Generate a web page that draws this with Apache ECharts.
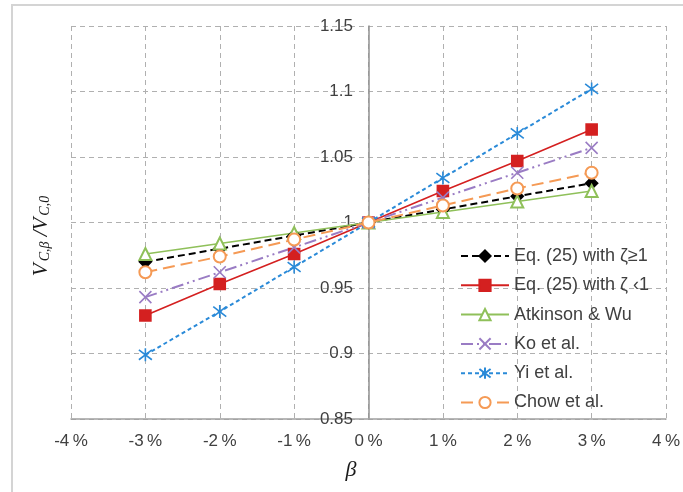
<!DOCTYPE html>
<html>
<head>
<meta charset="utf-8">
<script src="https://cdn.jsdelivr.net/npm/echarts@6/dist/echarts.min.js"></script>
<style>
  html, body { margin: 0; padding: 0; background: #fff; }
  #chart { width: 683px; height: 492px; }
</style>
</head>
<body>
<div id="chart"></div>
<script>
// Inclination angle beta in percent
const betaPct = [-3, -2, -1, 0, 1, 2, 3];
const xTickValues = [-4, -3, -2, -1, 0, 1, 2, 3, 4];
const xTickLabels = ['-4\u2009%', '-3\u2009%', '-2\u2009%', '-1\u2009%', '0\u2009%', '1\u2009%', '2\u2009%', '3\u2009%', '4\u2009%'];

// Shear capacity ratio V_C,beta / V_C,0 for each model
const eqZetaGe1  = [0.970, 0.980, 0.990, 1.000, 1.010, 1.020, 1.030];
const eqZetaLt1  = [0.929, 0.953, 0.976, 1.000, 1.024, 1.047, 1.071];
const atkinsonWu = [0.976, 0.984, 0.992, 1.000, 1.008, 1.016, 1.024];
const koEtAl     = [0.943, 0.962, 0.981, 1.000, 1.019, 1.038, 1.057];
const yiEtAl     = [0.899, 0.932, 0.966, 1.000, 1.034, 1.068, 1.102];
const chowEtAl   = [0.962, 0.974, 0.987, 1.000, 1.013, 1.026, 1.038];

const seriesNames = ['Eq. (25) with \u03b6\u22651', 'Eq. (25) with \u03b6 \u20391', 'Atkinson & Wu', 'Ko et al.', 'Yi et al.', 'Chow et al.'];

const pair = ys => betaPct.map((x, i) => [x, ys[i]]);

const SANS = '"Liberation Sans", Arial, sans-serif';
const SERIF = '"Liberation Serif", "Times New Roman", serif';

function lineSeries(name, ys, color, lineType, width, symbol, symbolSize, itemStyle) {
  return {
    name: name,
    type: 'line',
    data: pair(ys),
    symbol: symbol,
    symbolSize: symbolSize,
    lineStyle: { color: color, width: width, type: lineType },
    itemStyle: Object.assign({ color: color, borderColor: color, borderWidth: 1.6 }, itemStyle || {}),
    emphasis: { disabled: true },
    z: 3
  };
}

const chart = echarts.init(document.getElementById('chart'), null, { renderer: 'canvas' });

chart.setOption({
  animation: false,
  backgroundColor: '#fff',
  grid: { left: 71, right: 15, top: 26, bottom: 73, containLabel: false },
  xAxis: {
    type: 'value',
    min: -4, max: 4, interval: 1,
    axisLine: { show: true, onZero: false, lineStyle: { color: '#a0a0a0', width: 1.5 } },
    axisTick: { show: false },
    axisLabel: {
      margin: 14,
      color: '#404040',
      fontSize: 17,
      fontFamily: SANS,
      formatter: v => xTickLabels[xTickValues.indexOf(Math.round(v))]
    },
    splitLine: { show: true, lineStyle: { color: '#b0b0b0', type: [5, 4], width: 1 } }
  },
  yAxis: {
    type: 'value',
    min: 0.85, max: 1.15, interval: 0.05,
    // vertical axis drawn through beta = 0, labels hugging its left side
    offset: -298,
    axisLine: { show: true, onZero: false, lineStyle: { color: '#909090', width: 1.5 } },
    axisTick: { show: false },
    axisLabel: {
      margin: 16,
      color: '#404040',
      fontSize: 17,
      fontFamily: SANS,
      formatter: v => String(parseFloat(v.toFixed(2)))
    },
    splitLine: { show: true, lineStyle: { color: '#b0b0b0', type: [5, 4], width: 1 } }
  },
  legend: {
    orient: 'vertical',
    left: 460,
    top: 247,
    padding: 0,
    itemWidth: 48,
    itemHeight: 14,
    itemGap: 11.3,
    data: seriesNames,
    textStyle: { fontSize: 18, color: '#404040', fontFamily: SANS }
  },
  graphic: [
    {
      type: 'rect',
      silent: true,
      shape: { x: 12, y: 5, width: 720, height: 540 },
      style: { fill: 'none', stroke: '#d4d4d4', lineWidth: 2 },
      z: -10
    },
    {
      type: 'text',
      x: 40, y: 236,
      rotation: Math.PI / 2,
      style: {
        text: '{v|V}{s|C,\u03b2}{v| /V}{s|C,0}',
        align: 'center',
        verticalAlign: 'middle',
        fill: '#1a1a1a',
        rich: {
          v: { fontFamily: SERIF, fontStyle: 'italic', fontSize: 21, fill: '#1a1a1a', verticalAlign: 'bottom', lineHeight: 24 },
          s: { fontFamily: SERIF, fontStyle: 'italic', fontSize: 14, fill: '#1a1a1a', verticalAlign: 'bottom', lineHeight: 18, padding: [0, 0, 0, 2] }
        }
      }
    },
    {
      type: 'text',
      x: 351, y: 470,
      style: {
        text: '\u03b2',
        align: 'center',
        verticalAlign: 'middle',
        fontFamily: SERIF, fontStyle: 'italic', fontSize: 22,
        fill: '#1a1a1a'
      }
    }
  ],
  series: [
    lineSeries(seriesNames[0], eqZetaGe1, '#000000', [7, 4], 2, 'diamond', 12),
    lineSeries(seriesNames[1], eqZetaLt1, '#d42020', 'solid', 1.6, 'rect', 11),
    lineSeries(seriesNames[2], atkinsonWu, '#8fc05a', 'solid', 1.6, 'emptyTriangle', 12),
    lineSeries(seriesNames[3], koEtAl, '#9a7cc4', [12, 4, 2, 4, 2, 4], 2, 'path://M0,0L10,10M10,0L0,10', 12),
    lineSeries(seriesNames[4], yiEtAl, '#2a8ad8', [4, 3], 2, 'path://M5,0V10M1.2,1.2L8.8,8.8M1.2,8.8L8.8,1.2', 13),
    lineSeries(seriesNames[5], chowEtAl, '#f59a55', [12, 6], 2, 'emptyCircle', 12)
  ]
});
</script>
</body>
</html>
